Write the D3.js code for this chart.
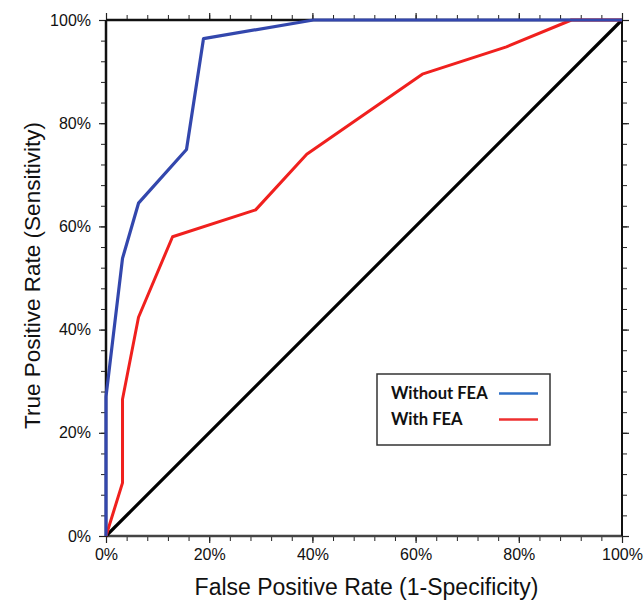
<!DOCTYPE html>
<html><head><meta charset="utf-8">
<script src="https://cdn.jsdelivr.net/npm/d3@7"></script>
<style>body{margin:0;background:#fff}svg{display:block}</style>
</head><body>
<svg id="c" width="644" height="600"></svg>
<script>
// Data (FPR %, TPR %)
const withoutFEA_fpr = [0, 0, 3.2, 6.3, 15.6, 18.9, 40.2, 100];
const withoutFEA_tpr = [0, 27, 53.8, 64.5, 74.9, 96.4, 100, 100];
const withFEA_fpr = [0, 3.2, 3.2, 6.3, 12.9, 29.0, 38.9, 61.3, 77.6, 90.2, 100];
const withFEA_tpr = [0, 10.3, 26.5, 42.4, 58.0, 63.2, 74.0, 89.5, 94.8, 100, 100];
const chance_fpr = [0, 100];
const chance_tpr = [0, 100];
const tickValues = [0, 20, 40, 60, 80, 100];
const minorTicks = d3.range(0, 101, 4);
const legendLabels = ["Without FEA", "With FEA"];

const svg = d3.select("#c");
const L = 106, R = 622, T = 20, B = 536;
const x = d3.scaleLinear().domain([0, 100]).range([L, R]);
const y = d3.scaleLinear().domain([0, 100]).range([B, T]);

const fmt = d => d + "%";
function addAxis(axisGen, transform, labels, pad) {
  const g = svg.append("g").attr("transform", transform);
  g.call(axisGen.tickValues(minorTicks).tickSize(5).tickFormat(""));
  g.select(".domain").remove();
  g.selectAll("line").attr("stroke", "#222").attr("stroke-width", 1);
  const g2 = svg.append("g").attr("transform", transform);
  g2.call(axisGen.tickValues(tickValues).tickSize(7).tickPadding(pad).tickFormat(labels ? fmt : ""));
  g2.select(".domain").remove();
  g2.selectAll("line").attr("stroke", "#222").attr("stroke-width", 1.2);
  g2.selectAll("text").attr("font-family", "Liberation Sans, Arial, sans-serif").attr("font-size", 16).attr("fill", "#111");
  return g2;
}
addAxis(d3.axisBottom(x), `translate(0,${B})`, true, 6);
addAxis(d3.axisLeft(y), `translate(${L},0)`, true, 8);
addAxis(d3.axisTop(x), `translate(0,${T})`, false, 3);
addAxis(d3.axisRight(y), `translate(${R},0)`, false, 3);

// frame
svg.append("line").attr("x1", L).attr("x2", R).attr("y1", T).attr("y2", T).attr("stroke", "#111").attr("stroke-width", 2.5);
svg.append("line").attr("x1", L).attr("x2", L).attr("y1", T).attr("y2", B).attr("stroke", "#111").attr("stroke-width", 2.5);
svg.append("line").attr("x1", L).attr("x2", R).attr("y1", B).attr("y2", B).attr("stroke", "#444").attr("stroke-width", 2.5);
svg.append("line").attr("x1", R).attr("x2", R).attr("y1", T).attr("y2", B).attr("stroke", "#111").attr("stroke-width", 2);

const line = d3.line().x(d => x(d[0])).y(d => y(d[1]));
const zip = (a, b) => a.map((v, i) => [v, b[i]]);

svg.append("path").datum(zip(chance_fpr, chance_tpr)).attr("d", line)
  .attr("fill", "none").attr("stroke", "#000").attr("stroke-width", 3.2);
svg.append("path").datum(zip(withFEA_fpr, withFEA_tpr)).attr("d", line)
  .attr("fill", "none").attr("stroke", "#f0201e").attr("stroke-width", 3).attr("stroke-linejoin", "round");
svg.append("path").datum(zip(withoutFEA_fpr, withoutFEA_tpr)).attr("d", line)
  .attr("fill", "none").attr("stroke", "#3347ad").attr("stroke-width", 3.2).attr("stroke-linejoin", "round");

// axis titles
svg.append("text").attr("x", 366.5).attr("y", 595).attr("text-anchor", "middle")
  .attr("font-family", "Liberation Sans, Arial, sans-serif").attr("font-size", 23).attr("fill", "#111")
  .text("False Positive Rate (1-Specificity)");
svg.append("text").attr("transform", `translate(40,275.5) rotate(-90)`).attr("text-anchor", "middle")
  .attr("font-family", "Liberation Sans, Arial, sans-serif").attr("font-size", 22.5).attr("fill", "#111")
  .text("True Positive Rate (Sensitivity)");

// legend
const lg = svg.append("g");
lg.append("rect").attr("x", 377).attr("y", 374).attr("width", 173).attr("height", 71)
  .attr("fill", "#fff").attr("stroke", "#333").attr("stroke-width", 1.5);
const legColors = ["#2f6fc6", "#ee3030"];
legendLabels.forEach((lab, i) => {
  lg.append("text").attr("x", 391).attr("y", 398.5 + i * 26).attr("font-family", "Lato, sans-serif")
    .attr("font-weight", "bold").attr("font-size", 16.6).attr("fill", "#111").text(lab);
  lg.append("line").attr("x1", 499).attr("x2", 538).attr("y1", 393.5 + i * 26).attr("y2", 393.5 + i * 26)
    .attr("stroke", legColors[i]).attr("stroke-width", 2.5);
});
</script>
</body></html>
